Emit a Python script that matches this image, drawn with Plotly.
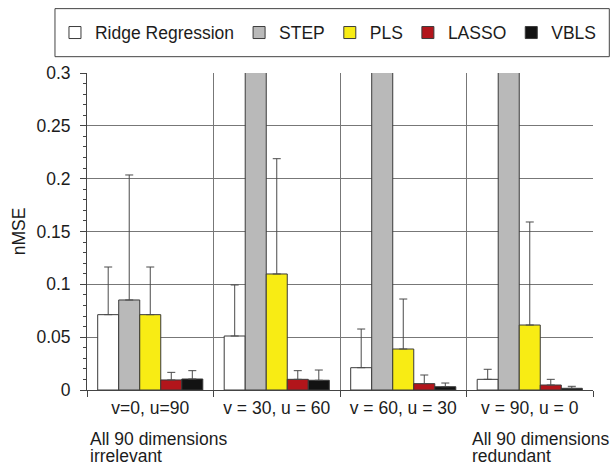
import plotly.graph_objects as go

categories = ["v=0, u=90", "v = 30, u = 60", "v = 60, u = 30", "v = 90, u = 0"]
methods = ["Ridge Regression", "STEP", "PLS", "LASSO", "VBLS"]

ridge_vals = [0.0713, 0.0511, 0.0211, 0.0101]
ridge_top = [0.1164, 0.0994, 0.0577, 0.0196]

step_vals = [0.0852, 0.60, 0.60, 0.60]      # off-scale bars in groups 2-4
step_top = [0.2035, 0.80, 0.80, 0.80]

pls_vals = [0.0713, 0.1098, 0.0388, 0.0615]
pls_top = [0.1164, 0.2189, 0.0861, 0.1590]

lasso_vals = [0.0095, 0.0101, 0.0060, 0.0047]
lasso_top = [0.0167, 0.0183, 0.0142, 0.0101]

vbls_vals = [0.0104, 0.0092, 0.0031, 0.0016]
vbls_top = [0.0183, 0.0189, 0.0066, 0.0035]

y_ticks = [0, 0.05, 0.1, 0.15, 0.2, 0.25, 0.3]
notes_left = ["All 90 dimensions", "irrelevant"]
notes_right = ["All 90 dimensions", "redundant"]

series = [
    (methods[0], ridge_vals, ridge_top, "#ffffff"),
    (methods[1], step_vals, step_top, "#b9b9b9"),
    (methods[2], pls_vals, pls_top, "#f8ec14"),
    (methods[3], lasso_vals, lasso_top, "#b2151b"),
    (methods[4], vbls_vals, vbls_top, "#121212"),
]

FONT = "Liberation Sans, Arial, Helvetica, sans-serif"
TXT = "#1c1c1c"
xpos = [i + 0.5 for i in range(len(categories))]

fig = go.Figure()
for name, vals, tops, color in series:
    fig.add_trace(go.Bar(
        name=name, x=xpos, y=vals,
        marker=dict(color=color, line=dict(color="#3a3a3a", width=1)),
        error_y=dict(type="data", symmetric=False,
                     array=[t - v for t, v in zip(tops, vals)],
                     arrayminus=[0] * len(vals),
                     color="#4a4a4a", thickness=1, width=4),
    ))

W, H = 612, 467
PL, PR, PT, PB = 87, 592.7, 73.3, 390   # plot area in page pixels
L, R, T, B = PL, W - PR, PT, H - PB
pw, ph = W - L - R, H - T - B

def px_x(x):
    return (x - PL) / pw

def px_y(y):
    return (PB - y) / ph

annotations = []
for i, t in enumerate(notes_left):
    annotations.append(dict(text=t, xref="paper", yref="paper", x=px_x(88), y=px_y(439 + 17 * i),
                            xanchor="left", yanchor="middle", showarrow=False,
                            font=dict(size=17.5, color=TXT, family=FONT)))
for i, t in enumerate(notes_right):
    annotations.append(dict(text=t, xref="paper", yref="paper", x=px_x(470), y=px_y(439 + 17 * i),
                            xanchor="left", yanchor="middle", showarrow=False,
                            font=dict(size=17.5, color=TXT, family=FONT)))

fig.update_layout(
    width=W, height=H,
    margin=dict(l=L, r=R, t=T, b=B, autoexpand=False),
    paper_bgcolor="white", plot_bgcolor="white",
    barmode="group", bargap=0.169, bargroupgap=0,
    font=dict(family=FONT, size=17.5, color=TXT),
    showlegend=True,
    legend=dict(orientation="h", x=px_x(55), xanchor="left", y=px_y(33), yanchor="middle",
                bgcolor="rgba(0,0,0,0)", borderwidth=0,
                font=dict(size=17.5, color=TXT, family=FONT)),
    shapes=[dict(type="rect", xref="paper", yref="paper",
                 x0=px_x(55), x1=px_x(609), y0=px_y(57), y1=px_y(9),
                 line=dict(color="#444444", width=1), fillcolor="rgba(0,0,0,0)")],
    annotations=annotations,
    xaxis=dict(type="linear", range=[0, len(categories)],
               tickmode="array", tickvals=xpos, ticktext=categories,
               ticks="", showgrid=False, zeroline=False,
               showline=True, linecolor="#444444", linewidth=1,
               ticklabelstandoff=2,
               tickfont=dict(size=17.5, color=TXT, family=FONT),
               minor=dict(tick0=0, dtick=1, showgrid=True, gridcolor="#777777", gridwidth=1,
                          ticks="outside", ticklen=6, tickcolor="#444444", tickwidth=1)),
    yaxis=dict(range=[0, 0.3], tickmode="array", tickvals=y_ticks,
               ticks="outside", ticklen=6, tickcolor="#444444", tickwidth=1,
               showgrid=True, gridcolor="#777777", gridwidth=1, zeroline=False,
               showline=True, linecolor="#444444", linewidth=1,
               ticklabelstandoff=6,
               tickfont=dict(size=17.5, color=TXT, family=FONT),
               title=dict(text="nMSE", standoff=6, font=dict(size=17.5, color=TXT, family=FONT)),
               minor=dict(tick0=0, dtick=0.01, ticks="outside", ticklen=3,
                          tickcolor="#444444", tickwidth=1, showgrid=False)),
)

fig.write_html("out.html", config={"displayModeBar": False},
               post_script="document.body.style.margin='0';document.body.style.overflow='hidden';")
